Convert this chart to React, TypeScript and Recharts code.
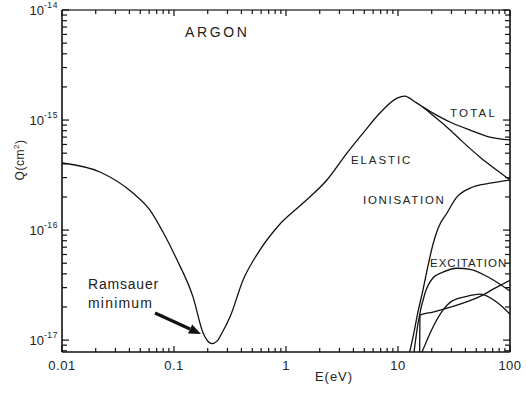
import React from 'react';
import { LineChart, Line, XAxis, YAxis } from 'recharts';

const X_DOMAIN: [number, number] = [0.01, 100];
const Y_DOMAIN: [number, number] = [7.8e-18, 1e-14];

const xMajorTicks = [0.01, 0.1, 1, 10, 100];
const xTickLabels = ['0.01', '0.1', '1', '10', '100'];
const yMajorTicks = [1e-17, 1e-16, 1e-15, 1e-14];
const yTickExponents = ['-17', '-16', '-15', '-14'];

// Elastic cross-section (eV, cm^2)
const elasticE = [0.01, 0.0218, 0.043, 0.061, 0.0797, 0.106, 0.148, 0.182, 0.197, 0.218, 0.242, 0.268, 0.316, 0.413, 0.586, 0.86, 1.42, 2.32, 3.5, 4.87, 6.9, 9.8, 11.5, 14.2, 16.7, 19.3, 27.4, 38, 54, 76.5, 100];
const elasticQ = [4.07e-16, 3.37e-16, 2.17e-16, 1.52e-16, 9.6e-17, 5.4e-17, 2.46e-17, 1.16e-17, 1.0e-17, 9.3e-18, 9.8e-18, 1.16e-17, 1.62e-17, 3.5e-17, 6.6e-17, 1.1e-16, 1.76e-16, 2.85e-16, 5.0e-16, 7.6e-16, 1.16e-15, 1.58e-15, 1.65e-15, 1.46e-15, 1.31e-15, 1.16e-15, 8.6e-16, 6.3e-16, 4.6e-16, 3.5e-16, 2.85e-16];

// Total cross-section above the split
const totalE = [16.7, 19.3, 29.1, 44, 66, 100];
const totalQ = [1.31e-15, 1.2e-15, 9.6e-16, 8.1e-16, 7.0e-16, 6.6e-16];

// Ionisation
const ionE = [12.7, 13.6, 15.0, 16.7, 18.5, 20.5, 22.8, 27.4, 33.6, 44, 66, 100];
const ionQ = [7.8e-18, 1.06e-17, 1.76e-17, 2.85e-17, 4.7e-17, 7.4e-17, 1.04e-16, 1.43e-16, 2.0e-16, 2.41e-16, 2.67e-16, 2.85e-16];

// Excitation curves
const excAE = [13.9, 15.1, 17.4, 20.5, 25.2, 33.6, 44, 66, 100];
const excAQ = [7.8e-18, 1.43e-17, 2.67e-17, 3.67e-17, 4.15e-17, 4.5e-17, 4.4e-17, 3.67e-17, 2.79e-17];
const excBE = [15.6, 15.7, 20.5, 27.4, 38, 54, 73.5, 100];
const excBQ = [7.8e-18, 1.69e-17, 1.8e-17, 1.95e-17, 2.17e-17, 2.5e-17, 2.97e-17, 3.5e-17];
const excCE = [16.4, 20.5, 25.2, 30.3, 41.3, 54, 76.5, 100];
const excCQ = [7.8e-18, 1.31e-17, 1.87e-17, 2.26e-17, 2.5e-17, 2.62e-17, 2.21e-17, 1.72e-17];

const toRows = (es: number[], qs: number[]) => es.map((e, i) => ({ E: e, Q: qs[i] }));

const elasticData = toRows(elasticE, elasticQ);
const totalData = toRows(totalE, totalQ);
const ionData = toRows(ionE, ionQ);
const excAData = toRows(excAE, excAQ);
const excBData = toRows(excBE, excBQ);
const excCData = toRows(excCE, excCQ);

function logTicks(lo: number, hi: number): number[] {
  const out: number[] = [];
  for (let k = -18; k <= 2; k++) {
    for (let m = 1; m <= 9; m++) {
      const v = m * Math.pow(10, k);
      if (v >= lo * 0.999 && v <= hi * 1.001) out.push(v);
    }
  }
  return out;
}
const xTicks = logTicks(X_DOMAIN[0], X_DOMAIN[1]);
const yTicks = logTicks(Y_DOMAIN[0], Y_DOMAIN[1]);

const INK = '#111';
const TXT = '#222';
const FONT = '"Liberation Sans", Arial, Helvetica, sans-serif';
const MAJOR = 7;
const MINOR = 4;

const idxOf = (arr: number[], v: number) => arr.findIndex((t) => Math.abs(t - v) / t < 1e-6);

const BottomTick = (p: any) => {
  const { x, y, payload } = p;
  const i = idxOf(xMajorTicks, payload.value);
  return (
    <g>
      <line x1={x} x2={x} y1={y} y2={y - (i >= 0 ? MAJOR - 1 : MINOR)} stroke={INK} strokeWidth={1.2} />
      {i >= 0 && (
        <text x={x} y={y + 18} textAnchor="middle" fontSize={13} fill={TXT} fontFamily={FONT} letterSpacing={0.5}>
          {xTickLabels[i]}
        </text>
      )}
    </g>
  );
};

const TopTick = (p: any) => {
  const { x, y, payload } = p;
  const i = idxOf(xMajorTicks, payload.value);
  return <line x1={x} x2={x} y1={y} y2={y + (i >= 0 ? MAJOR - 1 : MINOR)} stroke={INK} strokeWidth={1.2} />;
};

const LeftTick = (p: any) => {
  const { x, y, payload } = p;
  const i = idxOf(yMajorTicks, payload.value);
  return (
    <g>
      <line x1={x} x2={x + (i >= 0 ? MAJOR : MINOR + 1)} y1={y} y2={y} stroke={INK} strokeWidth={1.2} />
      {i >= 0 && (
        <text x={x - 4} y={y + 5} textAnchor="end" fontSize={13} fill={TXT} fontFamily={FONT}>
          10
          <tspan dy={-7} fontSize={8.5} letterSpacing={0.6}>
            {yTickExponents[i]}
          </tspan>
        </text>
      )}
    </g>
  );
};

const RightTick = (p: any) => {
  const { x, y, payload } = p;
  const i = idxOf(yMajorTicks, payload.value);
  return <line x1={x} x2={x - (i >= 0 ? MAJOR : MINOR + 1)} y1={y} y2={y} stroke={INK} strokeWidth={1.2} />;
};

const W = 526;
const H = 393;

const curve = { type: 'monotone' as const, dataKey: 'Q', stroke: INK, strokeWidth: 1.3, dot: false, isAnimationActive: false };

export default function App() {
  return (
    <div style={{ position: 'absolute', left: 0, top: 0, width: W, height: H, fontFamily: FONT, background: '#fff' }}>
      <LineChart width={W} height={H} margin={{ top: 8, right: 0, bottom: 0, left: 0 }}>
        <XAxis
          xAxisId="b"
          dataKey="E"
          type="number"
          scale="log"
          domain={X_DOMAIN}
          allowDataOverflow
          ticks={xTicks}
          interval={0}
          height={41}
          tickSize={0}
          tickMargin={0}
          tickLine={false}
          axisLine={{ stroke: INK, strokeWidth: 1.6 }}
          tick={(p: any) => <BottomTick {...p} />}
        />
        <XAxis
          xAxisId="t"
          orientation="top"
          dataKey="E"
          type="number"
          scale="log"
          domain={X_DOMAIN}
          allowDataOverflow
          ticks={xTicks}
          interval={0}
          height={2}
          tickSize={0}
          tickMargin={0}
          tickLine={false}
          axisLine={{ stroke: '#444', strokeWidth: 1.6 }}
          tick={(p: any) => <TopTick {...p} />}
        />
        <YAxis
          yAxisId="l"
          type="number"
          scale="log"
          domain={Y_DOMAIN}
          allowDataOverflow
          ticks={yTicks}
          interval={0}
          width={62}
          tickSize={0}
          tickMargin={0}
          tickLine={false}
          axisLine={{ stroke: INK, strokeWidth: 1.6 }}
          tick={(p: any) => <LeftTick {...p} />}
        />
        <YAxis
          yAxisId="r"
          orientation="right"
          type="number"
          scale="log"
          domain={Y_DOMAIN}
          allowDataOverflow
          ticks={yTicks}
          interval={0}
          width={16}
          tickSize={0}
          tickMargin={0}
          tickLine={false}
          axisLine={{ stroke: INK, strokeWidth: 1.6 }}
          tick={(p: any) => <RightTick {...p} />}
        />
        <Line {...curve} xAxisId="b" yAxisId="l" data={elasticData} />
        <Line {...curve} xAxisId="b" yAxisId="l" data={totalData} />
        <Line {...curve} xAxisId="b" yAxisId="l" data={ionData} />
        <Line {...curve} xAxisId="b" yAxisId="l" data={excAData} />
        <Line {...curve} xAxisId="b" yAxisId="l" data={excBData} />
        <Line {...curve} xAxisId="b" yAxisId="l" data={excCData} />
        <Line {...curve} xAxisId="t" yAxisId="r" data={elasticData} stroke="none" />
      </LineChart>
      <svg
        width={W}
        height={H}
        style={{ position: 'absolute', left: 0, top: 0, pointerEvents: 'none' }}
        fontFamily={FONT}
        fill={TXT}
      >
        <text x={185} y={37} fontSize={14} letterSpacing={2.6}>ARGON</text>
        <text x={450} y={116.5} fontSize={11.5} letterSpacing={2.2}>TOTAL</text>
        <text x={351} y={164} fontSize={11.5} letterSpacing={1.9}>ELASTIC</text>
        <text x={363} y={204} fontSize={11.5} letterSpacing={1.7}>IONISATION</text>
        <text x={430} y={267} fontSize={11.5} letterSpacing={1.0}>EXCITATION</text>
        <text x={88} y={289} fontSize={14} letterSpacing={0.8}>Ramsauer</text>
        <text x={88} y={308} fontSize={14} letterSpacing={1.2}>minimum</text>
        <text x={334} y={380.5} fontSize={13} letterSpacing={1} textAnchor="middle">E(eV)</text>
        <text x={23.5} y={160} fontSize={12} textAnchor="middle" transform="rotate(-90 23.5 160)" letterSpacing={0.5}>
          Q(cm
          <tspan dy={-5} fontSize={8}>2</tspan>
          <tspan dy={5}>)</tspan>
        </text>
        <line x1={155} y1={313} x2={190} y2={329} stroke={INK} strokeWidth={3.2} />
        <polygon points="201,334 188,333.6 192.2,324.4" fill={INK} />
      </svg>
    </div>
  );
}
